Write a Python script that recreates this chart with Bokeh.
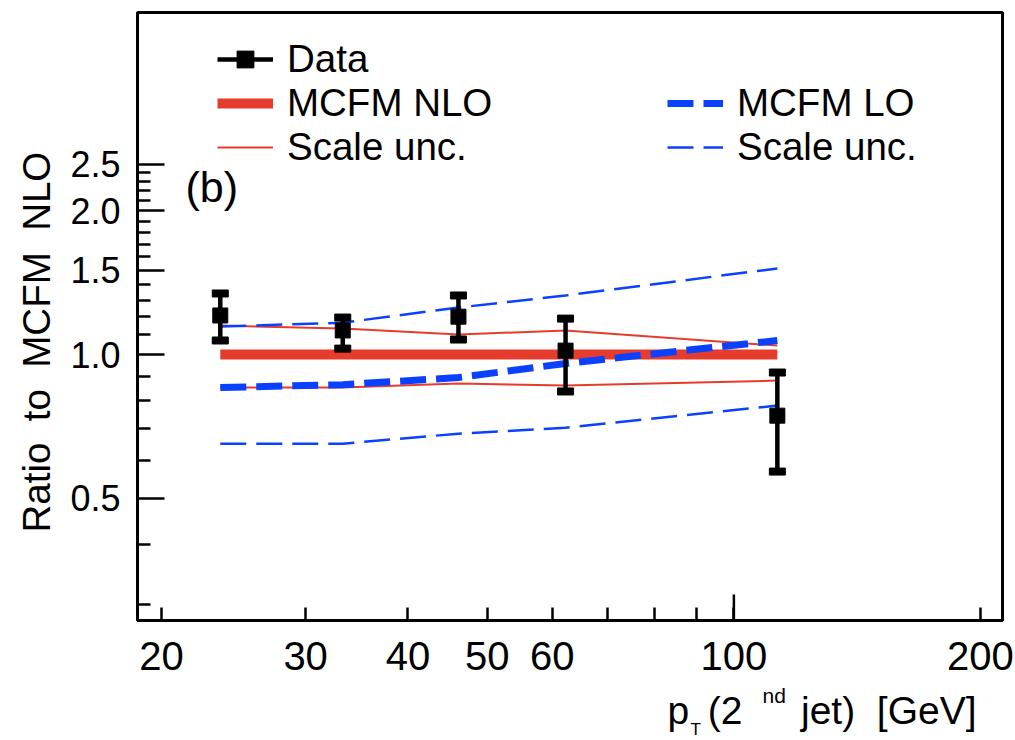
from math import pi
from bokeh.plotting import figure
from bokeh.models import (FixedTicker, PrintfTickFormatter, Label, Legend, LegendItem,
                          Range1d, LinearScale)
from bokeh.embed import file_html
from bokeh.resources import INLINE

FONT = "Liberation Sans"
RED = "#e63c2d"
BLUE = "#0a40ff"

# ---- data ----
pt_centers = [23.6, 33.3, 46.1, 62.3, 113.0]
data_ratio = [1.207, 1.123, 1.200, 1.019, 0.745]
data_hi = [1.342, 1.195, 1.329, 1.189, 0.917]
data_lo = [1.070, 1.029, 1.075, 0.837, 0.569]

nlo = [1.0, 1.0, 1.0, 1.0, 1.0]
nlo_up = [1.150, 1.133, 1.101, 1.123, 1.044]
nlo_dn = [0.853, 0.853, 0.870, 0.861, 0.882]

lo = [0.853, 0.865, 0.895, 0.958, 1.070]
lo_up = [1.144, 1.166, 1.254, 1.329, 1.514]
lo_dn = [0.651, 0.651, 0.683, 0.703, 0.782]

x_major = [20, 30, 40, 50, 60, 100, 200]
x_minor = [70, 80, 90]
y_major = [0.5, 1.0, 1.5, 2.0, 2.5]
y_minor = [0.3, 0.4, 0.6, 0.7, 0.8, 0.9, 1.1, 1.2, 1.3, 1.4,
           1.6, 1.7, 1.8, 1.9, 2.1, 2.2, 2.3, 2.4]

X_RANGE = (18.70, 212.8)
Y_RANGE = (0.2777, 5.195)

FRAME_W, FRAME_H = 865, 608

p = figure(width=1015, height=740, x_axis_type="log", y_axis_type="log",
           x_range=Range1d(*X_RANGE), y_range=Range1d(*Y_RANGE),
           output_backend="svg", toolbar_location=None,
           min_border_left=137, min_border_right=13, min_border_top=12,
           min_border_bottom=120)
p.grid.visible = False
p.outline_line_color = "black"
p.outline_line_width = 3
p.background_fill_color = "white"
p.border_fill_color = "white"

# pixel-like helper ranges (for decorations and titles)
p.extra_x_ranges = {"fx": Range1d(0, FRAME_W)}
p.extra_x_scales = {"fx": LinearScale()}
p.extra_y_ranges = {"fy": Range1d(0, FRAME_H)}
p.extra_y_scales = {"fy": LinearScale()}

xa = p.xaxis[0]
xa.ticker = FixedTicker(ticks=x_major, minor_ticks=x_minor)
xa.formatter = PrintfTickFormatter(format="%d")
xa.major_tick_in = 13
xa.major_tick_out = 0
xa.minor_tick_in = 13
xa.minor_tick_out = 0
xa.axis_line_width = 3
xa.major_tick_line_width = 2.5
xa.minor_tick_line_width = 2.5
xa.major_label_text_font = FONT
xa.major_label_text_font_size = "40px"
xa.major_label_text_color = "black"
xa.major_label_standoff = 21

ya = p.yaxis[0]
ya.ticker = FixedTicker(ticks=y_major, minor_ticks=y_minor)
ya.formatter = PrintfTickFormatter(format="%.1f")
ya.major_tick_in = 27
ya.major_tick_out = 0
ya.minor_tick_in = 13
ya.minor_tick_out = 0
ya.axis_line_width = 3
ya.major_tick_line_width = 2.5
ya.minor_tick_line_width = 2.5
ya.major_label_text_font = FONT
ya.major_label_text_font_size = "36px"
ya.major_label_text_color = "black"
ya.major_label_standoff = 17

# longer tick at the decade (100)
p.segment(x0=[100], y0=[0], x1=[100], y1=[26], y_range_name="fy",
          line_color="black", line_width=2.5)

# ---- curves ----
nlo_r = p.line(pt_centers, nlo, line_color=RED, line_width=10)
nlo_up_r = p.line(pt_centers, nlo_up, line_color=RED, line_width=2)
p.line(pt_centers, nlo_dn, line_color=RED, line_width=2)
lo_r = p.line(pt_centers, lo, line_color=BLUE, line_width=7, line_dash="26 10")
lo_up_r = p.line(pt_centers, lo_up, line_color=BLUE, line_width=2.5, line_dash="26 10")
p.line(pt_centers, lo_dn, line_color=BLUE, line_width=2.5, line_dash="26 10")

# ---- data points ----
err_r = p.segment(x0=pt_centers, y0=data_lo, x1=pt_centers, y1=data_hi,
                  line_color="black", line_width=4.5)
p.rect(x=pt_centers + pt_centers, y=data_hi + data_lo, width=16, height=7,
       width_units="screen", height_units="screen", fill_color="black", line_color="black")
mk_r = p.scatter(pt_centers, data_ratio, marker="square", size=15,
                 fill_color="black", line_color="black")

# ---- legends ----
def make_legend(items, loc):
    return Legend(items=items, location=loc, margin=0, padding=0, spacing=0,
                  glyph_width=56, glyph_height=42, label_height=42,
                  label_standoff=14, label_text_font=FONT,
                  label_text_font_size="38.5px", label_text_color="black",
                  border_line_alpha=0, background_fill_alpha=0)

leg1 = make_legend([LegendItem(label="Data", renderers=[err_r, mk_r]),
                    LegendItem(label="MCFM NLO", renderers=[nlo_r]),
                    LegendItem(label="Scale unc.", renderers=[nlo_up_r])], (80, 451))
leg2 = make_legend([LegendItem(label="MCFM LO", renderers=[lo_r]),
                    LegendItem(label="Scale unc.", renderers=[lo_up_r])], (530, 451))
p.add_layout(leg1)
p.add_layout(leg2)

# ---- texts ----
p.add_layout(Label(x=48, y=434, x_units="screen", y_units="screen", text="(b)",
                   text_font=FONT, text_font_size="43px", text_color="black",
                   text_baseline="alphabetic"))


def side_label(place, x, y, text, size, **kw):
    p.add_layout(Label(x=x, y=y, x_range_name="fx", y_range_name="fy",
                       text=text, text_font=FONT, text_font_size=size,
                       text_color="black", text_baseline="alphabetic", **kw), place)

NB = "\u00a0"
# y title (rotated, reads upward)
side_label("left", -101, 88, "Ratio" + NB * 2 + "to" + NB * 2 + "MCFM" + NB * 2 + "NLO",
           "38.5px", angle=pi / 2, text_align="left")
# x title: p_T (2^nd jet)  [GeV]
side_label("below", 530, -90, "p" + NB + "\u2009(2\u2003\u2002jet)" + NB * 2 + "[GeV]", "39px")
side_label("left", 625, -75, "nd", "21px")
side_label("right", 553, -109, "T", "17px")

open("out.html", "w").write(file_html(p, INLINE))
